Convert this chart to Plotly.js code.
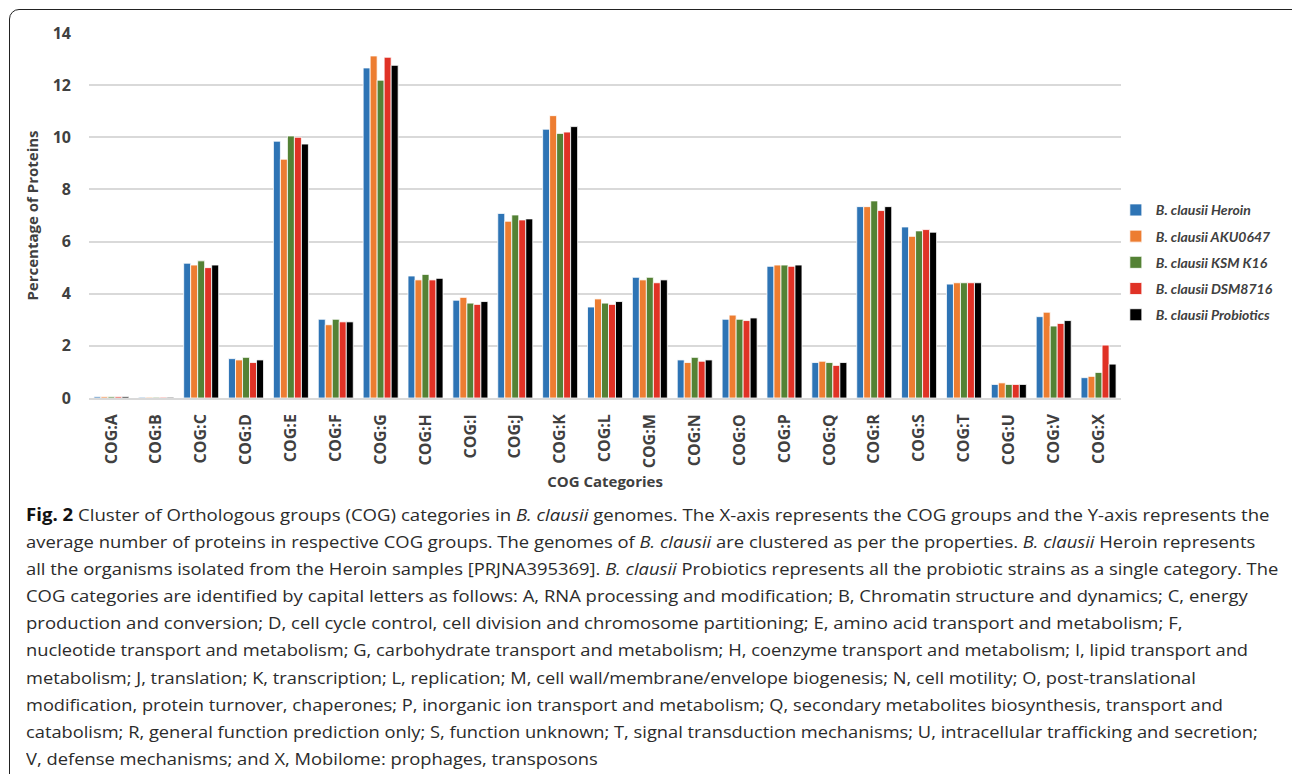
<!DOCTYPE html>
<html>
<head>
<meta charset="utf-8">
<script src="https://cdn.plot.ly/plotly-3.0.1.min.js"></script>
<style>
  html, body { margin: 0; padding: 0; background: #fff; width: 1292px; height: 774px; overflow: hidden; }
  #frame { position: absolute; left: 9px; top: 9px; width: 1300px; height: 790px; border: 1.5px solid #222; border-radius: 10px; box-sizing: border-box; }
  #chart { position: absolute; left: 0; top: 0; width: 1292px; height: 500px; }
  #caption { position: absolute; left: 26px; top: 501px; font-family: "Open Sans", sans-serif; font-size: 17px; color: #2b2b2b; line-height: 27.1px; white-space: nowrap; }
  #caption .ln { white-space: nowrap; transform-origin: 0 0; }
  #caption .ln span.t { display: inline-block; }
  #caption b { font-weight: 700; color: #111; }
</style>
</head>
<body>
<div id="frame"></div>
<div id="chart"></div>
<div id="caption">
<div class="ln"><span class="t"><b>Fig. 2</b> Cluster of Orthologous groups (COG) categories in <i>B. clausii</i> genomes. The X-axis represents the COG groups and the Y-axis represents the</span></div>
<div class="ln"><span class="t">average number of proteins in respective COG groups. The genomes of <i>B. clausii</i> are clustered as per the properties. <i>B. clausii</i> Heroin represents</span></div>
<div class="ln"><span class="t">all the organisms isolated from the Heroin samples [PRJNA395369]. <i>B. clausii</i> Probiotics represents all the probiotic strains as a single category. The</span></div>
<div class="ln"><span class="t">COG categories are identified by capital letters as follows: A, RNA processing and modification; B, Chromatin structure and dynamics; C, energy</span></div>
<div class="ln"><span class="t">production and conversion; D, cell cycle control, cell division and chromosome partitioning; E, amino acid transport and metabolism; F,</span></div>
<div class="ln"><span class="t">nucleotide transport and metabolism; G, carbohydrate transport and metabolism; H, coenzyme transport and metabolism; I, lipid transport and</span></div>
<div class="ln"><span class="t">metabolism; J, translation; K, transcription; L, replication; M, cell wall/membrane/envelope biogenesis; N, cell motility; O, post-translational</span></div>
<div class="ln"><span class="t">modification, protein turnover, chaperones; P, inorganic ion transport and metabolism; Q, secondary metabolites biosynthesis, transport and</span></div>
<div class="ln"><span class="t">catabolism; R, general function prediction only; S, function unknown; T, signal transduction mechanisms; U, intracellular trafficking and secretion;</span></div>
<div class="ln"><span class="t">V, defense mechanisms; and X, Mobilome: prophages, transposons</span></div>
</div>
<script>
const categories = ["COG:A","COG:B","COG:C","COG:D","COG:E","COG:F","COG:G","COG:H","COG:I","COG:J","COG:K","COG:L","COG:M","COG:N","COG:O","COG:P","COG:Q","COG:R","COG:S","COG:T","COG:U","COG:V","COG:X"];
const seriesNames = ["B. clausii Heroin","B. clausii AKU0647","B. clausii KSM K16","B. clausii DSM8716","B. clausii Probiotics"];
const heroin     = [0.05,0.03,5.17,1.51,9.85,3.02,12.66,4.68,3.75,7.08,10.31,3.49,4.63,1.46,3.02,5.05,1.36,7.34,6.56,4.37,0.52,3.12,0.78];
const aku0647    = [0.05,0.03,5.10,1.46,9.16,2.81,13.12,4.53,3.86,6.78,10.83,3.80,4.53,1.36,3.18,5.10,1.41,7.34,6.20,4.42,0.58,3.29,0.83];
const ksmk16     = [0.05,0.03,5.26,1.56,10.05,3.02,12.19,4.74,3.64,7.02,10.15,3.64,4.63,1.56,3.02,5.10,1.36,7.56,6.41,4.42,0.52,2.76,0.98];
const dsm8716    = [0.05,0.03,5.00,1.36,10.00,2.92,13.07,4.53,3.59,6.83,10.20,3.59,4.42,1.41,2.97,5.05,1.25,7.19,6.46,4.42,0.52,2.86,2.03];
const probiotics = [0.05,0.03,5.10,1.46,9.74,2.92,12.76,4.59,3.70,6.87,10.41,3.70,4.53,1.46,3.07,5.10,1.36,7.34,6.36,4.42,0.52,2.97,1.30];
const yTicks = [0,2,4,6,8,10,12,14];

const colors = ["#2E74B5","#ED7D31","#548235","#E03226","#000000"];
const allValues = [heroin, aku0647, ksmk16, dsm8716, probiotics];

const traces = allValues.map((vals, i) => ({
  type: "bar",
  name: seriesNames[i],
  x: categories,
  y: vals,
  legendgroup: "g" + i,
  marker: { color: colors[i], line: { color: "#ffffff", width: 0.8 } },
  hoverinfo: "x+y+name"
}));

const tickFont = { family: "Open Sans, sans-serif", size: 16, color: "#404040", weight: 700 };
const titleFont = { family: "Open Sans, sans-serif", size: 15, color: "#404040", weight: 700 };

const layout = {
  width: 1292, height: 500,
  margin: { l: 89, r: 171, t: 33, b: 102 },
  paper_bgcolor: "rgba(0,0,0,0)",
  plot_bgcolor: "rgba(0,0,0,0)",
  barmode: "group",
  bargap: 0.22,
  bargroupgap: 0,
  showlegend: true,
  legend: {
    x: 0.995, xanchor: "left", y: 0.558, yanchor: "top",
    font: { family: "Lato, sans-serif", size: 14, color: "#404040", weight: 700, style: "italic" },
    tracegroupgap: 5,
    traceorder: "grouped",
    itemwidth: 30,
    bgcolor: "rgba(0,0,0,0)"
  },
  xaxis: {
    type: "category",
    tickangle: -90,
    tickfont: tickFont,
    ticklabelstandoff: 8,
    showgrid: false,
    showline: true, linecolor: "#D9D9D9", linewidth: 1.5,
    ticks: "",
    title: { text: "COG Categories", font: titleFont, standoff: 9 }
  },
  yaxis: {
    range: [0, 14],
    tickvals: yTicks,
    ticktext: yTicks.map(String),
    tickfont: tickFont,
    ticklabelstandoff: 17,
    showgrid: true, gridcolor: "#D9D9D9", gridwidth: 1.5,
    zeroline: false,
    showline: false,
    ticks: "",
    title: { text: "Percentage of Proteins", font: titleFont, standoff: 10 }
  }
};

Plotly.newPlot("chart", traces, layout, { displayModeBar: false, responsive: false });

// right ends of each caption line in the reference, in page pixels
const captionLineEnds = [1270, 1255, 1278, 1248, 1183, 1248, 1196, 1223, 1258, 598];
function fitCaption() {
  const capLeft = 26;
  const lines = document.querySelectorAll("#caption .ln");
  lines.forEach((ln, i) => {
    const w = ln.querySelector("span.t").offsetWidth;
    if (w > 0) ln.style.transform = "scaleX(" + ((captionLineEnds[i] - capLeft) / w) + ")";
  });
}
fitCaption();
if (document.fonts && document.fonts.ready) { document.fonts.ready.then(fitCaption); }
</script>
</body>
</html>
